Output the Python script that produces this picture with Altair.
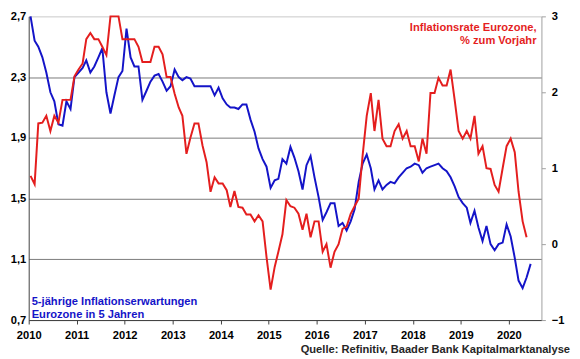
import altair as alt
import pandas as pd

# 5-year inflation expectations (left axis), monthly Jan 2010 - Jun 2020
blue_vals = [
    2.70, 2.54, 2.50, 2.43, 2.33, 2.20, 2.14, 1.99, 1.98, 2.14, 2.09, 2.30,
    2.33, 2.36, 2.41, 2.33, 2.37, 2.43, 2.49, 2.20, 2.06, 2.18, 2.30, 2.34,
    2.62, 2.43, 2.37, 2.37, 2.15, 2.21, 2.27, 2.31, 2.32, 2.27, 2.21, 2.24,
    2.35, 2.30, 2.28, 2.30, 2.29, 2.24, 2.24, 2.24, 2.24, 2.24, 2.18, 2.23,
    2.16, 2.12, 2.10, 2.10, 2.09, 2.12, 2.12, 2.02, 1.94, 1.83, 1.76, 1.71,
    1.57, 1.62, 1.63, 1.76, 1.73, 1.84, 1.77, 1.68, 1.56, 1.72, 1.78, 1.64,
    1.51, 1.36, 1.41, 1.47, 1.47, 1.32, 1.34, 1.29, 1.35, 1.43, 1.61, 1.73,
    1.79, 1.70, 1.56, 1.62, 1.56, 1.59, 1.61, 1.60, 1.64, 1.67, 1.70, 1.71,
    1.73, 1.72, 1.67, 1.70, 1.71, 1.72, 1.73, 1.70, 1.68, 1.64, 1.58, 1.51,
    1.47, 1.44, 1.34, 1.42, 1.31, 1.22, 1.32, 1.20, 1.16, 1.20, 1.21, 1.33,
    1.25, 1.11, 0.96, 0.91, 0.98, 1.07,
]

# Euro area inflation rate, % yoy (right axis), monthly Jan 2010 - May 2020
red_vals = [
    0.90, 0.79, 1.59, 1.60, 1.69, 1.49, 1.69, 1.60, 1.90, 1.90, 1.90, 2.21,
    2.30, 2.38, 2.70, 2.78, 2.70, 2.70, 2.60, 2.49, 3.00, 3.00, 3.00, 2.70,
    2.70, 2.70, 2.70, 2.60, 2.40, 2.40, 2.40, 2.60, 2.60, 2.50, 2.20, 2.20,
    1.98, 1.80, 1.69, 1.19, 1.40, 1.59, 1.59, 1.30, 1.08, 0.69, 0.88, 0.80,
    0.80, 0.71, 0.49, 0.70, 0.49, 0.48, 0.39, 0.39, 0.30, 0.38, 0.30, -0.17,
    -0.60, -0.30, -0.10, 0.13, 0.58, 0.50, 0.48, 0.40, 0.19, 0.40, 0.09, 0.30,
    0.30, -0.10, 0.00, -0.31, -0.10, 0.00, 0.20, 0.23, 0.40, 0.50, 0.60, 1.17,
    1.69, 1.99, 1.49, 1.90, 1.39, 1.29, 1.29, 1.49, 1.58, 1.39, 1.49, 1.29,
    1.29, 1.09, 1.39, 1.19, 1.99, 1.99, 2.19, 2.09, 2.09, 2.30, 1.90, 1.49,
    1.39, 1.49, 1.39, 1.69, 1.19, 1.29, 1.00, 0.99, 0.78, 0.69, 1.00, 1.29,
    1.39, 1.21, 0.69, 0.30, 0.09,
]

left_ticks = [0.7, 1.1, 1.5, 1.9, 2.3, 2.7]
right_ticks = [-1, 0, 1, 2, 3]
year_ticks = list(range(2010, 2021))

red_label = ["Inflationsrate Eurozone,", "% zum Vorjahr"]
blue_label = ["5-jährige Inflationserwartungen", "Eurozone in 5 Jahren"]
source_label = "Quelle: Refinitiv, Baader Bank Kapitalmarktanalyse"

start = pd.Timestamp("2010-01-01")
blue_dates = (pd.date_range(start, periods=len(blue_vals), freq="MS") + pd.Timedelta(days=14)).strftime("%Y-%m-%d")
red_dates = (pd.date_range(start, periods=len(red_vals), freq="MS") + pd.Timedelta(days=14)).strftime("%Y-%m-%d")
df_blue = pd.DataFrame({"date": blue_dates, "v": blue_vals})
df_red = pd.DataFrame({"date": red_dates, "v": red_vals})

FONT = "Liberation Sans"
BLUE = "#1414c8"
RED = "#e41e1e"

x_scale = alt.Scale(domain=["2010-01-01", "2020-09-05"], nice=False)
x_axis = alt.Axis(
    values=[alt.DateTime(year=y, month=1, date=1) for y in year_ticks],
    format="%Y", grid=False, tickSize=4, labelPadding=6,
    domainColor="#404040", tickColor="#404040", labelFlush=False,
    title=None,
)

blue = alt.Chart(df_blue).mark_line(color=BLUE, strokeWidth=2).encode(
    x=alt.X("date:T", scale=x_scale, axis=x_axis),
    y=alt.Y(
        "v:Q",
        scale=alt.Scale(domain=[0.7, 2.7], nice=False, zero=False),
        axis=alt.Axis(
            orient="left", values=left_ticks,
            labelExpr="replace(format(datum.value, '.1f'), '.', ',')",
            grid=True,
            gridColor=alt.condition("datum.value > 2.6", alt.value("#c8c8c8"), alt.value("#7a7a7a")),
            gridWidth=1,
            ticks=False, labelPadding=3, domainColor="#404040", title=None,
        ),
    ),
)

red = alt.Chart(df_red).mark_line(color=RED, strokeWidth=2).encode(
    x=alt.X("date:T", scale=x_scale, axis=x_axis),
    y=alt.Y(
        "v:Q",
        scale=alt.Scale(domain=[-1, 3], nice=False, zero=False),
        axis=alt.Axis(
            orient="right", values=right_ticks, format="d", grid=False,
            tickSize=4, labelPadding=6, tickColor="#a0a0a0",
            domainColor="#a0a0a0", title=None,
        ),
    ),
)

red_text = alt.Chart(pd.DataFrame({"k": [0]})).mark_text(
    text=red_label, align="right", baseline="alphabetic", font=FONT,
    fontWeight="bold", fontSize=11.3, color=RED, lineHeight=13,
).encode(x=alt.value(515), y=alt.value(15))

blue_text = alt.Chart(pd.DataFrame({"k": [0]})).mark_text(
    text=blue_label, align="left", baseline="alphabetic", font=FONT,
    fontWeight="bold", fontSize=11.3, color=BLUE, lineHeight=13,
).encode(x=alt.value(3), y=alt.value(293))

source_text = alt.Chart(pd.DataFrame({"k": [0]})).mark_text(
    text=source_label, align="right", baseline="alphabetic", font=FONT,
    fontWeight="bold", fontSize=11.3, color="#262626",
).encode(x=alt.value(549), y=alt.value(341))

chart = (
    alt.layer(blue, red, red_text, blue_text, source_text)
    .resolve_scale(y="independent")
    .properties(
        width=520, height=308,
        autosize=alt.AutoSizeParams(type="none"),
        padding={"left": 21, "top": 6, "right": 31, "bottom": 37},
        background="white",
    )
    .configure_view(stroke=None)
    .configure_axis(
        labelFont=FONT, labelFontWeight="bold", labelFontSize=11.3,
        labelColor="#000000",
    )
)

chart.save("out.html", embed_options={"renderer": "svg", "actions": False})
